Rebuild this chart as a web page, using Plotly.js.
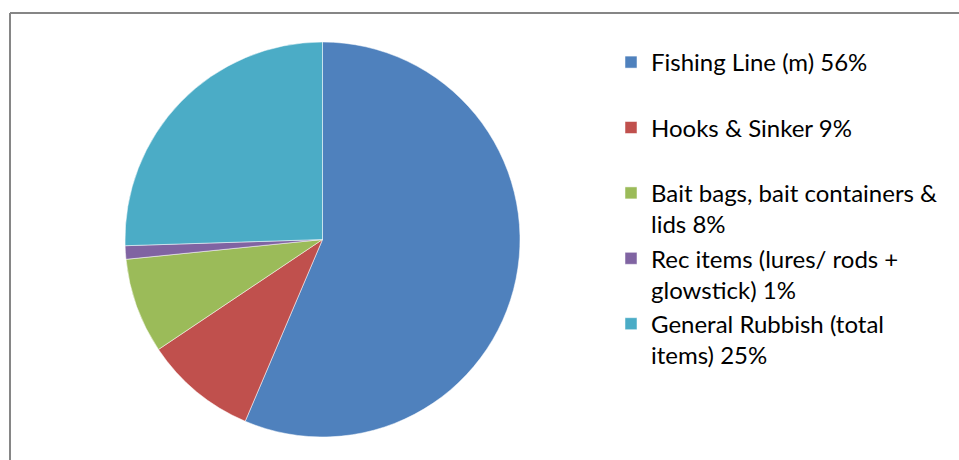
<!DOCTYPE html>
<html>
<head>
<meta charset="utf-8">
<script src="https://cdn.plot.ly/plotly-3.0.1.min.js"></script>
<style>html,body{margin:0;padding:0;background:#fff;}#chart{width:959px;height:460px;}</style>
</head>
<body>
<div id="chart"></div>
<script>
const categories = [
  "Fishing Line (m) 56%<br> ",
  "Hooks & Sinker 9%<br> ",
  "Bait bags, bait containers &<br>lids 8%",
  "Rec items (lures/ rods +<br>glowstick) 1%",
  "General Rubbish (total<br>items) 25%"
];
const shares = [56.4, 9.2, 7.8, 1.1, 25.5];
const colors = ["#4F81BD", "#C0504D", "#9BBB59", "#8064A2", "#4BACC6"];

const W = 959, H = 460;
const trace = {
  type: "pie",
  labels: categories,
  values: shares,
  sort: false,
  direction: "clockwise",
  rotation: 0,
  textinfo: "none",
  hoverinfo: "label+percent",
  marker: {colors: colors, line: {color: "#ffffff", width: 0.5}},
  domain: {x: [125 / W, 520 / W], y: [23 / H, 418 / H]}
};
const layout = {
  width: W, height: H,
  margin: {l: 0, r: 0, t: 0, b: 0},
  paper_bgcolor: "#ffffff",
  font: {family: "Lato, 'Open Sans', sans-serif", color: "#000000"},
  showlegend: true,
  legend: {
    x: 611 / W, y: 1 - 40 / H, xanchor: "left", yanchor: "top",
    font: {size: 24, family: "Lato, 'Open Sans', sans-serif", color: "#000"},
    valign: "top",
    itemwidth: 30,
    bgcolor: "rgba(0,0,0,0)"
  },
  shapes: [
    {type: "line", xref: "paper", yref: "paper", x0: 10 / W, x1: 10 / W, y0: 0, y1: 1 - 13 / H, line: {color: "#868686", width: 2}},
    {type: "line", xref: "paper", yref: "paper", x0: 10 / W, x1: 1, y0: 1 - 13 / H, y1: 1 - 13 / H, line: {color: "#868686", width: 2}}
  ]
};
Plotly.newPlot("chart", [trace], layout, {displayModeBar: false, staticPlot: true});
</script>
</body>
</html>
